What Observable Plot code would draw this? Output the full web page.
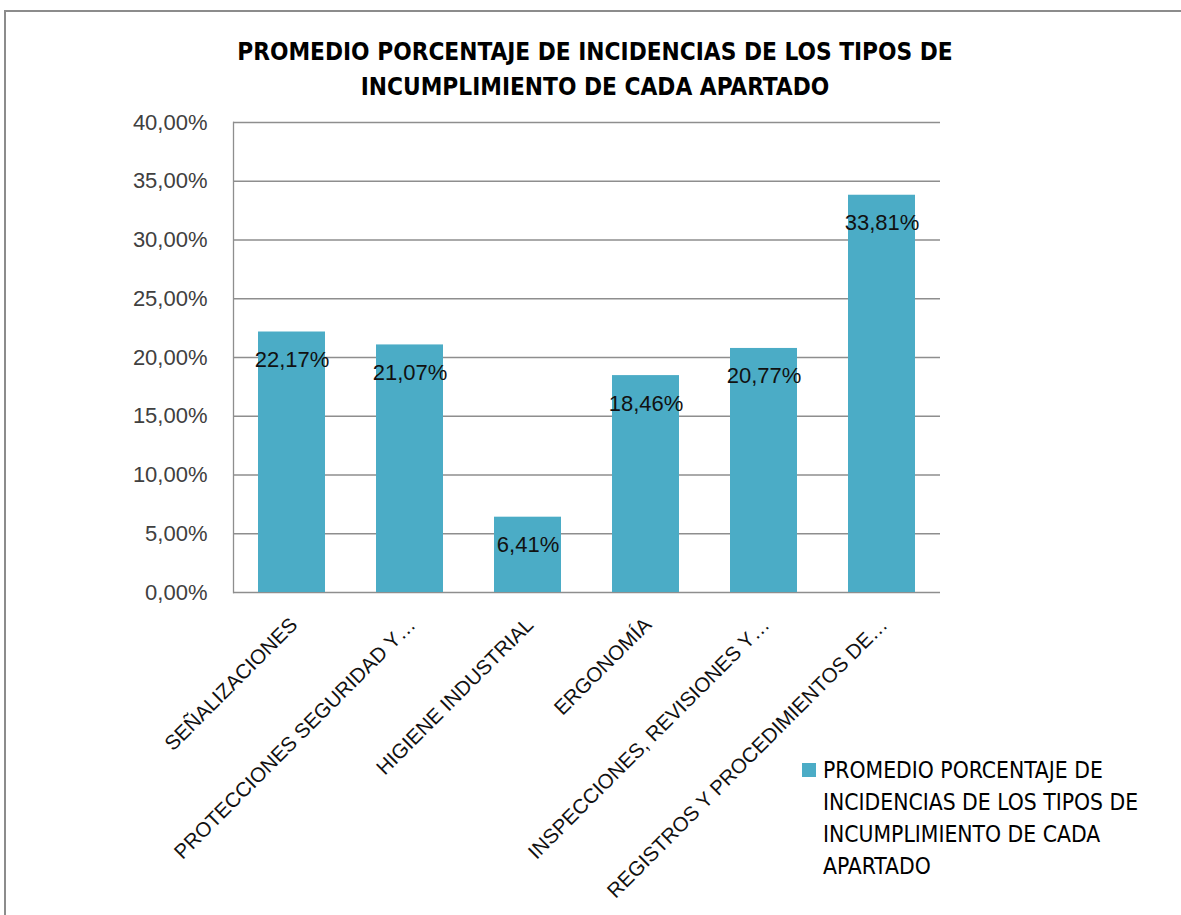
<!DOCTYPE html>
<html><head><meta charset="utf-8">
<script src="https://cdn.jsdelivr.net/npm/d3@7"></script>
<script src="https://cdn.jsdelivr.net/npm/@observablehq/plot@0.6"></script>
<style>
body{margin:0;background:#fff;}
#wrap{position:relative;width:1181px;height:915px;overflow:hidden;background:#fff;}
#frame{position:absolute;left:4px;top:10px;width:1300px;height:1100px;border:2px solid #8c8c8c;box-sizing:border-box;}
#title{position:absolute;left:0;top:35px;width:1190px;text-align:center;font:bold 24.2px "Liberation Sans Narrow","DejaVu Sans Condensed",sans-serif;line-height:35px;color:#000;}
#chart{position:absolute;left:0;top:100px;}
#legend{position:absolute;left:802px;top:754px;font:22.7px "Liberation Sans Narrow","DejaVu Sans Condensed",sans-serif;line-height:32px;color:#000;}
#legend .sw{position:absolute;left:0;top:9px;width:14px;height:14px;background:#4BACC6;}
#legend .tx{position:absolute;left:21px;top:0;width:370px;white-space:nowrap;}
</style></head>
<body>
<div id="wrap">
<div id="frame"></div>
<div id="title">PROMEDIO PORCENTAJE DE INCIDENCIAS DE LOS TIPOS DE<br>INCUMPLIMIENTO DE CADA APARTADO</div>
<div id="chart"></div>
<div id="legend"><div class="sw"></div><div class="tx">PROMEDIO PORCENTAJE DE<br>INCIDENCIAS DE LOS TIPOS DE<br>INCUMPLIMIENTO DE CADA<br>APARTADO</div></div>
</div>
<script>
const categories = ["SEÑALIZACIONES", "PROTECCIONES SEGURIDAD Y…", "HIGIENE INDUSTRIAL", "ERGONOMÍA", "INSPECCIONES, REVISIONES Y…", "REGISTROS Y PROCEDIMIENTOS DE…"];
const values = [22.17, 21.07, 6.41, 18.46, 20.77, 33.81];
const yTicks = [0, 5, 10, 15, 20, 25, 30, 35, 40];

const data = categories.map((c, i) => ({cat: c, value: values[i]}));
const fmt = d => d.toFixed(2).replace(".", ",") + "%";

const chart = Plot.plot({
  width: 1181,
  height: 815,
  marginTop: 22,
  marginBottom: 323,
  marginLeft: 233,
  marginRight: 241,
  style: {fontFamily: "'Liberation Sans', Arial, sans-serif", background: "transparent", overflow: "visible"},
  x: {domain: categories, paddingInner: 0.43, paddingOuter: 0.2, label: null},
  y: {domain: [0, 40], label: null},
  marks: [
    Plot.ruleY(yTicks, {stroke: "#8e8e8e", strokeWidth: 1.3}),
    Plot.barY(data, {x: "cat", y: "value", fill: "#4BACC6"}),
    Plot.frame({anchor: "left", stroke: "#8e8e8e", strokeWidth: 1.3}),
    Plot.text(data, {x: "cat", y: "value", text: d => fmt(d.value), dy: 28, fontSize: 22, fill: "#111"}),
    Plot.axisY({ticks: yTicks, tickSize: 0, tickPadding: 26, tickFormat: fmt, fontSize: 22, color: "#404040", label: null}),
    Plot.axisX({tickSize: 0, tickRotate: -45, tickPadding: 29, dx: 2, fontSize: 20.5, color: "#111", label: null})
  ]
});
document.getElementById("chart").appendChild(chart);
</script>
</body></html>
